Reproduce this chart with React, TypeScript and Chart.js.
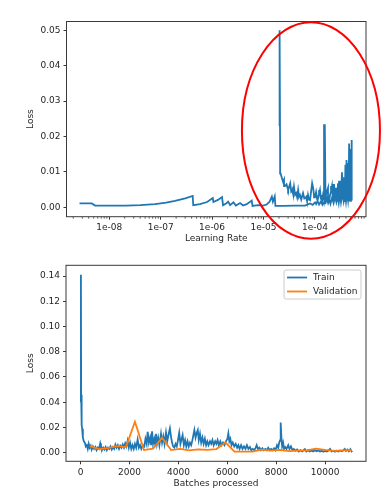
import React, { useEffect, useRef } from 'react';
import { Chart, registerables } from 'chart.js';

Chart.register(...registerables);

const FONT = 'DejaVu Sans';
const BLUE = '#1f77b4';
const ORANGE = '#ff7f0e';
const TEXT = '#262626';
const AXIS = '#3a3a3a';
const LINE_W = 1.8;

// ---------- Top chart: loss vs learning rate ----------
// annealing part (read left to right)
const lrLow = [2.65e-9, 4.6e-9, 5.3e-9, 1.0e-8, 2.1e-8, 4.0e-8, 7.8e-8, 1.28e-7, 1.9e-7, 3.0e-7, 4.2e-7, 4.3e-7, 5.8e-7, 8.0e-7, 1.03e-6, 1.06e-6, 1.3e-6, 1.56e-6, 1.63e-6, 1.87e-6, 2.05e-6, 2.24e-6, 2.6e-6, 2.9e-6, 3.5e-6, 4.0e-6, 4.7e-6, 5.9e-6, 6.1e-6, 7.8e-6, 9.8e-6, 1.15e-5, 1.3e-5, 1.45e-5, 1.52e-5, 1.65e-5, 1.7e-5, 2.5e-5, 4.0e-5, 6.4e-5, 8.0e-5, 9.0e-5, 1.0e-4, 1.05e-4, 1.12e-4, 1.2e-4, 1.3e-4, 1.4e-4, 1.5e-4, 1.6e-4, 1.7e-4, 1.8e-4, 1.9e-4, 2.0e-4, 2.15e-4, 2.3e-4, 2.45e-4, 2.6e-4, 2.75e-4, 2.9e-4, 3.05e-4, 3.2e-4, 3.4e-4, 3.6e-4, 3.8e-4, 4.0e-4, 4.2e-4, 4.4e-4, 4.6e-4, 4.8e-4, 5.0e-4, 5.15e-4, 5.22e-4];
const lossLow = [0.0011, 0.0011, 0.0005, 0.0005, 0.0005, 0.0006, 0.0009, 0.0013, 0.0018, 0.0025, 0.0032, 0.0006, 0.0009, 0.0015, 0.0026, 0.0015, 0.0021, 0.0029, 0.0006, 0.0011, 0.0016, 0.0006, 0.0014, 0.0005, 0.0012, 0.0005, 0.0009, 0.0019, 0.0004, 0.0006, 0.0005, 0.0008, 0.0015, 0.003, 0.0016, 0.0031, 0.0004, 0.0004, 0.0005, 0.0005, 0.0011, 0.0007, 0.0014, 0.0009, 0.0018, 0.0008, 0.0016, 0.0007, 0.0015, 0.0012, 0.0025, 0.0012, 0.0022, 0.001, 0.0028, 0.0012, 0.003, 0.0015, 0.0035, 0.0013, 0.0038, 0.0015, 0.004, 0.0018, 0.0042, 0.0016, 0.0045, 0.002, 0.005, 0.0018, 0.0045, 0.0022, 0.0048];
// warm-up part (chronological: spike first, then rising learning rate)
const lrHigh = [2.05e-5, 2.05e-5, 2.1e-5, 2.15e-5, 2.25e-5, 2.4e-5, 2.5e-5, 2.6e-5, 2.8e-5, 3.0e-5, 3.1e-5, 3.3e-5, 3.45e-5, 3.6e-5, 3.75e-5, 3.9e-5, 4.1e-5, 4.3e-5, 4.5e-5, 4.7e-5, 4.9e-5, 5.1e-5, 5.4e-5, 5.85e-5, 6.2e-5, 6.7e-5, 7.0e-5, 7.3e-5, 7.6e-5, 8.0e-5, 8.4e-5, 8.8e-5, 9.2e-5, 9.6e-5, 1.0e-4, 1.05e-4, 1.1e-4, 1.15e-4, 1.2e-4, 1.25e-4, 1.3e-4, 1.37e-4, 1.43e-4, 1.5e-4, 1.55e-4, 1.6e-4, 1.7e-4, 1.79e-4, 1.87e-4, 1.96e-4, 2.05e-4, 2.14e-4, 2.24e-4, 2.34e-4, 2.45e-4, 2.56e-4, 2.68e-4, 2.8e-4, 2.93e-4, 3.06e-4, 3.2e-4, 3.34e-4, 3.5e-4, 3.66e-4, 3.8e-4, 3.9e-4, 4.0e-4, 4.1e-4, 4.2e-4, 4.37e-4, 4.5e-4, 4.6e-4, 4.7e-4, 4.85e-4, 4.95e-4, 5.05e-4, 5.15e-4, 5.2e-4, 5.22e-4];
const lossHigh = [0.023, 0.05, 0.016, 0.0095, 0.0085, 0.0072, 0.0078, 0.006, 0.0065, 0.0049, 0.0055, 0.0068, 0.0045, 0.0049, 0.0038, 0.0058, 0.0035, 0.004, 0.0028, 0.0049, 0.003, 0.0035, 0.0022, 0.004, 0.0025, 0.0029, 0.0018, 0.0035, 0.0022, 0.002, 0.0045, 0.0068, 0.0055, 0.0032, 0.0028, 0.0043, 0.0024, 0.0026, 0.0038, 0.0049, 0.0025, 0.0018, 0.0035, 0.0022, 0.0235, 0.003, 0.0045, 0.0055, 0.0015, 0.0035, 0.0045, 0.006, 0.0018, 0.0066, 0.0022, 0.0055, 0.0015, 0.0068, 0.002, 0.0075, 0.0018, 0.0099, 0.0025, 0.0085, 0.0015, 0.012, 0.002, 0.0134, 0.0018, 0.0125, 0.0028, 0.018, 0.0022, 0.0165, 0.003, 0.0189, 0.0025, 0.019, 0.0048];

const lrTicks = [1e-8, 1e-7, 1e-6, 1e-5, 1e-4];
const lrAxis = [1.48e-9, 9.8e-4];
const lossTicksTop = [0, 0.01, 0.02, 0.03, 0.04, 0.05];
const lossAxisTop = [-0.00265, 0.0525];
// highlighted region (red ellipse), in data units
const ellipseLr = [3.8e-6, 1.83e-3];
const ellipseLoss = [-0.0089, 0.0523];

// ---------- Bottom chart: loss vs batches ----------
const trainBatch = [0, 10, 20, 40, 60, 90, 130, 170, 210, 250, 290, 330, 370, 410, 450, 500, 550, 600, 650, 700, 750, 800, 830, 870, 920, 970, 1020, 1070, 1120, 1170, 1220, 1270, 1320, 1370, 1420, 1470, 1520, 1570, 1620, 1670, 1720, 1770, 1820, 1870, 1920, 1970, 2020, 2070, 2120, 2170, 2220, 2270, 2330, 2380, 2430, 2480, 2540, 2600, 2650, 2700, 2740, 2790, 2840, 2880, 2920, 2960, 3010, 3050, 3080, 3120, 3170, 3220, 3285, 3330, 3380, 3430, 3490, 3540, 3590, 3650, 3700, 3740, 3780, 3830, 3880, 3930, 3980, 4030, 4080, 4130, 4170, 4220, 4270, 4320, 4370, 4420, 4470, 4520, 4570, 4650, 4700, 4750, 4790, 4830, 4880, 4930, 4980, 5030, 5080, 5130, 5180, 5230, 5290, 5340, 5390, 5440, 5500, 5550, 5600, 5650, 5710, 5760, 5820, 5880, 5940, 6000, 6040, 6080, 6120, 6170, 6220, 6280, 6340, 6400, 6450, 6500, 6560, 6620, 6680, 6740, 6800, 6860, 6920, 6980, 7040, 7100, 7160, 7200, 7250, 7310, 7370, 7430, 7490, 7550, 7610, 7670, 7730, 7790, 7850, 7910, 7970, 8030, 8080, 8120, 8160, 8180, 8210, 8240, 8280, 8320, 8370, 8420, 8490, 8540, 8600, 8660, 8720, 8780, 8850, 8920, 8990, 9060, 9120, 9170, 9230, 9300, 9370, 9440, 9510, 9580, 9650, 9720, 9790, 9860, 9930, 10000, 10070, 10140, 10200, 10260, 10330, 10400, 10470, 10540, 10610, 10680, 10750, 10800, 10850, 10910, 10970, 11030, 11080, 11110];
const trainLoss = [0.04, 0.141, 0.046, 0.022, 0.019, 0.012, 0.009, 0.008, 0.005, 0.006, 0.003, 0.007, 0.004, 0.0055, 0.0025, 0.005, 0.003, 0.0045, 0.002, 0.004, 0.003, 0.0075, 0.005, 0.002, 0.004, 0.0025, 0.0045, 0.002, 0.004, 0.003, 0.005, 0.0025, 0.0045, 0.003, 0.0065, 0.004, 0.006, 0.003, 0.0055, 0.004, 0.0065, 0.004, 0.0075, 0.005, 0.0095, 0.004, 0.008, 0.003, 0.006, 0.003, 0.007, 0.004, 0.0105, 0.004, 0.006, 0.003, 0.006, 0.005, 0.011, 0.007, 0.0165, 0.008, 0.012, 0.006, 0.017, 0.007, 0.011, 0.006, 0.015, 0.007, 0.012, 0.006, 0.015, 0.008, 0.013, 0.007, 0.016, 0.009, 0.014, 0.0193, 0.012, 0.008, 0.005, 0.004, 0.007, 0.005, 0.01, 0.0158, 0.007, 0.011, 0.014, 0.006, 0.01, 0.005, 0.009, 0.005, 0.008, 0.006, 0.01, 0.018, 0.012, 0.016, 0.018, 0.01, 0.015, 0.008, 0.012, 0.007, 0.011, 0.006, 0.009, 0.006, 0.009, 0.007, 0.01, 0.006, 0.009, 0.007, 0.01, 0.006, 0.009, 0.006, 0.008, 0.006, 0.009, 0.011, 0.0154, 0.009, 0.011, 0.006, 0.008, 0.005, 0.007, 0.004, 0.006, 0.003, 0.006, 0.003, 0.005, 0.003, 0.006, 0.003, 0.0045, 0.002, 0.003, 0.002, 0.004, 0.006, 0.003, 0.004, 0.002, 0.0035, 0.002, 0.003, 0.002, 0.004, 0.002, 0.003, 0.002, 0.0035, 0.002, 0.006, 0.004, 0.008, 0.01, 0.024, 0.012, 0.005, 0.008, 0.003, 0.0045, 0.003, 0.006, 0.003, 0.005, 0.002, 0.003, 0.0015, 0.0025, 0.001, 0.002, 0.001, 0.002, 0.0028, 0.001, 0.002, 0.001, 0.0018, 0.001, 0.002, 0.0012, 0.0018, 0.001, 0.0015, 0.0008, 0.0015, 0.001, 0.0018, 0.003, 0.001, 0.0015, 0.0008, 0.0015, 0.001, 0.0018, 0.0012, 0.002, 0.003, 0.0015, 0.0025, 0.0012, 0.0028, 0.001, 0.0015];
const valBatch = [370, 740, 1110, 1480, 1850, 2220, 2590, 2960, 3330, 3700, 4070, 4440, 4810, 5180, 5550, 5920, 6290, 6660, 7030, 7400, 7770, 8140, 8510, 8880, 9250, 9620, 9990, 10360, 10730, 11100];
const valLoss = [0.0052, 0.0028, 0.0036, 0.0052, 0.0045, 0.0245, 0.0021, 0.0033, 0.0118, 0.0021, 0.0031, 0.0019, 0.0026, 0.0022, 0.0029, 0.0082, 0.0009, 0.0009, 0.0008, 0.0025, 0.0016, 0.0022, 0.0012, 0.0016, 0.0018, 0.0032, 0.0022, 0.0015, 0.0019, 0.0021];
const batchTicks = [0, 2000, 4000, 6000, 8000, 10000];
const batchAxis = [-600, 11670];
const lossTicksBottom = [0, 0.02, 0.04, 0.06, 0.08, 0.1, 0.12, 0.14];
const lossAxisBottom = [-0.0068, 0.1485];

const zip = (xs: number[], ys: number[]) => {
  const n = Math.min(xs.length, ys.length);
  const out: { x: number; y: number }[] = [];
  for (let i = 0; i < n; i++) out.push({ x: xs[i], y: ys[i] });
  return out;
};

const framePlugin = {
  id: 'frame',
  afterDatasetsDraw(chart: any) {
    const { ctx, chartArea: a } = chart;
    ctx.save();
    ctx.strokeStyle = AXIS;
    ctx.lineWidth = 1;
    ctx.strokeRect(a.left, a.top, a.right - a.left, a.bottom - a.top);
    ctx.restore();
  },
};

const minorTickPlugin = {
  id: 'minorTicks',
  afterDraw(chart: any) {
    const { ctx, chartArea: a } = chart;
    const xs = chart.scales.x;
    ctx.save();
    ctx.strokeStyle = AXIS;
    ctx.lineWidth = 0.8;
    ctx.beginPath();
    for (let e = -10; e <= -3; e++) {
      for (let k = 2; k <= 9; k++) {
        const v = k * Math.pow(10, e);
        if (v < xs.min || v > xs.max) continue;
        const px = xs.getPixelForValue(v);
        ctx.moveTo(px, a.bottom);
        ctx.lineTo(px, a.bottom + 2);
      }
    }
    ctx.stroke();
    ctx.restore();
  },
};

const ellipsePlugin = {
  id: 'highlight',
  afterDraw(chart: any) {
    const { ctx } = chart;
    const xs = chart.scales.x;
    const ys = chart.scales.y;
    const x0 = xs.getPixelForValue(ellipseLr[0]);
    const x1 = xs.getPixelForValue(ellipseLr[1]);
    const y0 = ys.getPixelForValue(ellipseLoss[1]);
    const y1 = ys.getPixelForValue(ellipseLoss[0]);
    ctx.save();
    ctx.strokeStyle = '#ff0000';
    ctx.lineWidth = 2;
    ctx.beginPath();
    ctx.ellipse((x0 + x1) / 2, (y0 + y1) / 2, (x1 - x0) / 2, (y1 - y0) / 2, 0, 0, Math.PI * 2);
    ctx.stroke();
    ctx.restore();
  },
};

const legendPlugin = {
  id: 'boxLegend',
  afterDraw(chart: any) {
    const { ctx, chartArea: a } = chart;
    const ds = chart.data.datasets;
    ctx.save();
    ctx.font = `9px "${FONT}"`;
    const textW = Math.max(...ds.map((d: any) => ctx.measureText(d.label).width));
    const pad = 3, handle = 20, gap = 6, rowH = 14;
    const w = pad + handle + gap + textW + pad + 0.5;
    const h = rowH * ds.length + 1;
    const x = a.right - 5 - w;
    const y = a.top + 4.7;
    const r = 2;
    ctx.beginPath();
    ctx.moveTo(x + r, y);
    ctx.lineTo(x + w - r, y);
    ctx.arcTo(x + w, y, x + w, y + r, r);
    ctx.lineTo(x + w, y + h - r);
    ctx.arcTo(x + w, y + h, x + w - r, y + h, r);
    ctx.lineTo(x + r, y + h);
    ctx.arcTo(x, y + h, x, y + h - r, r);
    ctx.lineTo(x, y + r);
    ctx.arcTo(x, y, x + r, y, r);
    ctx.closePath();
    ctx.fillStyle = 'rgba(255,255,255,0.8)';
    ctx.fill();
    ctx.strokeStyle = '#cccccc';
    ctx.lineWidth = 1;
    ctx.stroke();
    ds.forEach((d: any, i: number) => {
      const cy = y + 7.5 + i * rowH;
      ctx.strokeStyle = d.borderColor;
      ctx.lineWidth = LINE_W;
      ctx.beginPath();
      ctx.moveTo(x + pad, cy);
      ctx.lineTo(x + pad + handle, cy);
      ctx.stroke();
      ctx.fillStyle = TEXT;
      ctx.textBaseline = 'middle';
      ctx.textAlign = 'left';
      ctx.fillText(d.label, x + pad + handle + gap, cy + 0.5);
    });
    ctx.restore();
  },
};

const tickFont = { family: FONT, size: 9 };

const axisCommon = {
  border: { display: false },
  grid: {
    display: true,
    drawOnChartArea: false,
    drawTicks: true,
    tickLength: 3,
    tickColor: AXIS,
    tickWidth: 1,
  },
};

function topConfig(): any {
  const path = zip(lrLow, lossLow).concat(zip(lrHigh, lossHigh).reverse());
  return {
    type: 'scatter',
    data: {
      datasets: [
        {
          label: 'Loss',
          data: path,
          showLine: true,
          borderColor: BLUE,
          backgroundColor: BLUE,
          borderWidth: LINE_W,
          pointRadius: 0,
          tension: 0,
          fill: false,
        },
      ],
    },
    options: {
      responsive: false,
      animation: false,
      devicePixelRatio: 1,
      events: [],
      layout: { padding: { left: 0, right: 19, top: 21.5, bottom: 0 } },
      plugins: { legend: { display: false }, tooltip: { enabled: false } },
      scales: {
        x: {
          ...axisCommon,
          type: 'logarithmic',
          min: lrAxis[0],
          max: lrAxis[1],
          afterBuildTicks: (s: any) => {
            s.ticks = lrTicks.map((v) => ({ value: v }));
          },
          afterFit: (s: any) => {
            s.height = 32.3;
          },
          ticks: {
            autoSkip: false,
            maxRotation: 0,
            padding: 3,
            color: TEXT,
            font: tickFont,
            callback: (v: number) => {
              const e = Math.round(Math.log10(v));
              return '1e' + (e < 0 ? '-' : '+') + String(Math.abs(e)).padStart(2, '0');
            },
          },
          title: {
            display: true,
            text: 'Learning Rate',
            color: TEXT,
            font: tickFont,
            padding: { top: 0, bottom: 4.6 },
          },
        },
        y: {
          ...axisCommon,
          type: 'linear',
          min: lossAxisTop[0],
          max: lossAxisTop[1],
          afterBuildTicks: (s: any) => {
            s.ticks = lossTicksTop.map((v) => ({ value: v }));
          },
          afterFit: (s: any) => {
            s.width = 66.5;
          },
          ticks: {
            autoSkip: false,
            padding: 3,
            color: TEXT,
            font: tickFont,
            callback: (v: number) => Number(v).toFixed(2),
          },
          title: {
            display: true,
            text: 'Loss',
            color: TEXT,
            font: tickFont,
            padding: { top: 25.6, bottom: 0 },
          },
        },
      },
    },
    plugins: [framePlugin, minorTickPlugin, ellipsePlugin],
  };
}

function bottomConfig(): any {
  return {
    type: 'scatter',
    data: {
      datasets: [
        {
          label: 'Train',
          data: zip(trainBatch, trainLoss),
          showLine: true,
          borderColor: BLUE,
          backgroundColor: BLUE,
          borderWidth: LINE_W,
          pointRadius: 0,
          tension: 0,
          fill: false,
          order: 1,
        },
        {
          label: 'Validation',
          data: zip(valBatch, valLoss),
          showLine: true,
          borderColor: ORANGE,
          backgroundColor: ORANGE,
          borderWidth: LINE_W,
          pointRadius: 0,
          tension: 0,
          fill: false,
          order: 0,
        },
      ],
    },
    options: {
      responsive: false,
      animation: false,
      devicePixelRatio: 1,
      events: [],
      layout: { padding: { left: 0, right: 19, top: 16.3, bottom: 0 } },
      plugins: { legend: { display: false }, tooltip: { enabled: false } },
      scales: {
        x: {
          ...axisCommon,
          type: 'linear',
          min: batchAxis[0],
          max: batchAxis[1],
          afterBuildTicks: (s: any) => {
            s.ticks = batchTicks.map((v) => ({ value: v }));
          },
          afterFit: (s: any) => {
            s.height = 36.7;
          },
          ticks: {
            autoSkip: false,
            maxRotation: 0,
            padding: 3,
            color: TEXT,
            font: tickFont,
            callback: (v: number) => String(v),
          },
          title: {
            display: true,
            text: 'Batches processed',
            color: TEXT,
            font: tickFont,
            padding: { top: 0, bottom: 8.6 },
          },
        },
        y: {
          ...axisCommon,
          type: 'linear',
          min: lossAxisBottom[0],
          max: lossAxisBottom[1],
          afterBuildTicks: (s: any) => {
            s.ticks = lossTicksBottom.map((v) => ({ value: v }));
          },
          afterFit: (s: any) => {
            s.width = 66;
          },
          ticks: {
            autoSkip: false,
            padding: 3,
            color: TEXT,
            font: tickFont,
            callback: (v: number) => Number(v).toFixed(2),
          },
          title: {
            display: true,
            text: 'Loss',
            color: TEXT,
            font: tickFont,
            padding: { top: 25.6, bottom: 0 },
          },
        },
      },
    },
    plugins: [framePlugin, legendPlugin],
  };
}

export default function App() {
  const topRef = useRef<HTMLCanvasElement>(null);
  const botRef = useRef<HTMLCanvasElement>(null);

  useEffect(() => {
    Chart.defaults.font.family = FONT;
    Chart.defaults.font.size = 9;
    Chart.defaults.color = TEXT;
    const c1 = new Chart(topRef.current as HTMLCanvasElement, topConfig());
    const c2 = new Chart(botRef.current as HTMLCanvasElement, bottomConfig());
    return () => {
      c1.destroy();
      c2.destroy();
    };
  }, []);

  return (
    <div style={{ position: 'absolute', left: 0, top: 0, width: 385, height: 498, background: '#ffffff' }}>
      <canvas ref={topRef} width={385} height={249} style={{ position: 'absolute', left: 0, top: 0 }} />
      <canvas ref={botRef} width={385} height={249} style={{ position: 'absolute', left: 0, top: 249 }} />
    </div>
  );
}
